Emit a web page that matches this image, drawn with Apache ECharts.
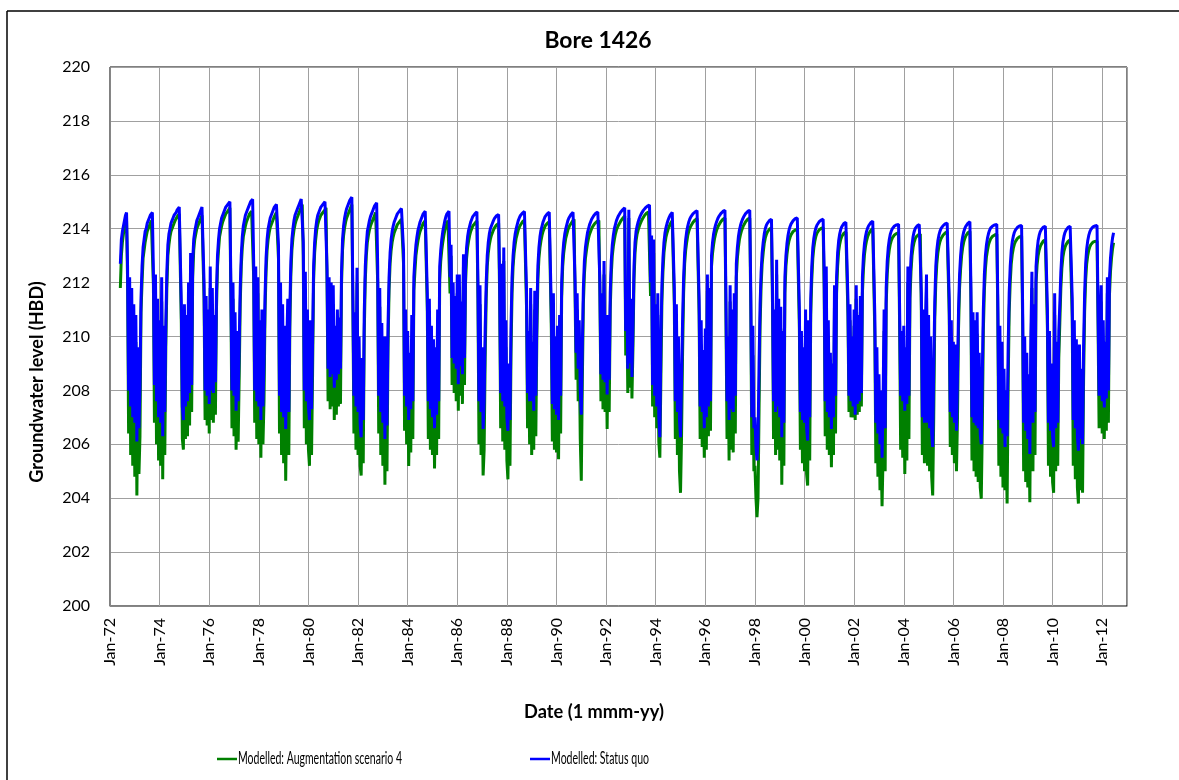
<!DOCTYPE html>
<html><head><meta charset="utf-8">
<script src="https://cdn.jsdelivr.net/npm/echarts@6/dist/echarts.min.js"></script>
<style>html,body{margin:0;padding:0;background:#fff}#c{width:1179px;height:780px}</style>
</head><body><div id="c"></div>
<script>
const chartTitle = 'Bore 1426';
const yAxisTitle = 'Groundwater level (HBD)';
const xAxisTitle = 'Date (1 mmm-yy)';
const seriesNames = ['Modelled: Augmentation scenario 4', 'Modelled: Status quo'];
const seriesColors = ['#008000', '#0000ff'];
const xTickYears = [1972,1974,1976,1978,1980,1982,1984,1986,1988,1990,1992,1994,1996,1998,2000,2002,2004,2006,2008,2010,2012];
// half-monthly samples (24 per year); 1972 starts at slot 10 (June), 2012 ends at slot 11
const sampleYears = [1972,1973,1974,1975,1976,1977,1978,1979,1980,1981,1982,1983,1984,1985,1986,1987,1988,1989,1990,1991,1992,1993,1994,1995,1996,1997,1998,1999,2000,2001,2002,2003,2004,2005,2006,2007,2008,2009,2010,2011,2012];
const firstSlot = 10;
const slotsPerYear = 24;

const statusQuo = [
[212.7,213.6,213.9,214.1,214.3,214.5,214.6,212.6,208.0,212.2,207.4,211.8,207.0,211.2],
[206.8,210.8,206.1,209.6,206.6,208.2,211.4,212.6,213.3,213.6,213.9,214.0,214.2,214.3,214.4,214.5,214.55,214.6,212.4,208.2,212.3,207.6,211.4,207.0],
[210.6,206.8,212.2,206.3,210.4,207.2,210.5,212.4,213.4,213.8,214.0,214.2,214.3,214.4,214.5,214.55,214.6,214.7,214.75,214.8,214.84,211.2,207.4,206.9],
[211.2,207.4,210.8,207.6,212.0,207.9,213.1,208.2,212.8,213.6,213.9,214.1,214.3,214.4,214.5,214.6,214.7,214.8,214.84,212.0,208.0,211.5,207.8,211.0],
[207.5,212.6,208.0,211.8,207.9,210.8,208.3,211.6,213.0,213.6,214.0,214.2,214.4,214.5,214.6,214.7,214.8,214.85,214.9,214.95,215.0,211.8,208.0,212.0],
[207.8,210.9,207.25,210.2,207.6,209.7,211.8,213.0,213.7,214.1,214.3,214.5,214.6,214.7,214.8,214.9,215.0,215.05,215.09,212.8,208.0,212.6,207.6,212.2],
[207.4,210.6,206.9,211.0,207.4,209.0,211.5,212.9,213.6,214.0,214.2,214.4,214.5,214.6,214.7,214.8,214.85,214.9,214.96,213.4,207.8,212.0,207.2,211.2],
[207.0,210.4,206.57,209.6,211.4,207.2,211.0,212.8,213.6,214.0,214.3,214.5,214.6,214.7,214.8,214.9,215.0,215.1,215.17,213.5,208.0,212.4,207.6,211.0],
[207.4,206.9,210.6,207.3,209.8,212.6,213.5,214.0,214.3,214.5,214.6,214.7,214.8,214.85,214.9,214.95,215.0,215.05,212.5,208.8,212.2,208.5,212.0,208.6],
[211.9,208.1,210.4,208.4,211.0,208.6,210.7,208.8,212.4,213.6,214.1,214.4,214.6,214.75,214.85,214.95,215.05,215.12,215.17,211.5,207.8,210.9,207.4,212.55],
[207.2,210.0,206.8,206.26,209.2,206.9,210.9,212.6,213.4,213.9,214.1,214.3,214.45,214.55,214.65,214.75,214.85,214.9,214.96,212.6,207.8,211.8,207.2,210.5],
[206.8,210.0,206.2,210.0,206.7,210.4,212.2,213.1,213.6,213.9,214.1,214.25,214.35,214.45,214.55,214.6,214.65,214.7,214.75,214.8,213.2,207.8,211.0,207.4],
[210.2,206.9,209.4,207.3,210.8,207.6,212.2,212.9,213.4,213.7,213.95,214.1,214.25,214.35,214.45,214.55,214.6,214.65,214.68,211.6,207.6,211.4,207.3,210.4],
[207.0,209.9,206.6,209.6,207.1,211.0,207.6,212.6,213.2,213.6,213.9,214.1,214.3,214.45,214.55,214.6,214.65,212.2,213.4,209.2,212.0,209.0,211.5,208.8],
[212.3,208.23,212.3,208.9,211.3,208.6,213.05,209.2,212.5,213.3,213.7,213.95,214.1,214.25,214.35,214.45,214.5,214.55,214.6,214.63,212.0,207.6,211.9,207.2],
[209.6,206.57,207.6,210.3,212.0,213.0,213.5,213.8,214.0,214.1,214.2,214.3,214.38,214.44,214.48,214.51,214.53,212.1,207.9,212.7,207.6,213.3,207.4,210.6],
[207.0,206.5,209.0,206.9,210.4,212.2,213.0,213.5,213.8,214.0,214.15,214.3,214.4,214.48,214.54,214.58,214.62,214.64,214.65,211.7,207.9,210.2,207.6,211.8],
[207.6,209.8,207.25,211.7,207.8,210.8,212.6,213.3,213.7,213.95,214.1,214.25,214.35,214.45,214.5,214.55,214.58,214.61,214.63,211.0,207.5,211.6,207.3,210.0],
[207.1,210.4,206.9,210.8,207.8,212.0,213.0,213.5,213.8,214.0,214.15,214.3,214.4,214.47,214.53,214.58,214.61,214.63,212.0,209.4,211.6,208.8,210.6,208.0],
[207.1,209.6,211.8,212.8,213.3,213.6,213.85,214.0,214.15,214.25,214.35,214.42,214.48,214.53,214.57,214.6,214.62,214.63,212.0,208.6,211.6,208.4,212.8,208.3],
[210.8,207.85,210.8,208.4,211.6,212.8,213.4,213.75,214.0,214.15,214.3,214.4,214.48,214.55,214.61,214.66,214.7,214.74,214.78,210.2,212.0,208.8,214.7,209.0],
[211.4,208.5,210.4,212.6,213.5,213.9,214.1,214.25,214.37,214.47,214.55,214.62,214.68,214.73,214.77,214.81,214.84,214.86,214.88,212.0,213.75,208.2,213.6,207.8],
[211.2,207.4,211.6,207.0,206.26,209.8,211.9,212.9,213.5,213.85,214.05,214.2,214.32,214.42,214.5,214.56,214.61,214.65,211.8,207.6,211.2,207.2,210.0,206.9],
[206.26,208.4,210.6,212.2,213.1,213.6,213.9,214.1,214.25,214.36,214.44,214.5,214.55,214.59,214.62,214.65,214.67,214.68,211.4,207.4,210.6,207.2,209.5,206.6],
[210.3,207.0,212.3,207.4,211.8,207.6,213.0,213.5,213.8,214.0,214.15,214.27,214.37,214.45,214.51,214.56,214.6,214.64,214.66,214.68,211.2,207.6,210.0,206.9],
[211.9,207.3,211.0,207.2,211.6,207.8,212.7,213.3,213.7,213.95,214.12,214.25,214.35,214.43,214.5,214.56,214.6,214.64,214.66,214.68,211.6,207.0,210.4,206.6],
[207.0,205.9,205.4,206.2,209.0,211.2,212.4,213.1,213.5,213.8,214.0,214.12,214.2,214.26,214.3,214.33,214.35,211.8,207.6,211.0,207.2,212.85,207.4,211.4],
[207.0,211.1,206.26,210.2,206.8,212.2,213.0,213.45,213.75,213.95,214.08,214.18,214.25,214.3,214.34,214.37,214.39,214.4,214.4,211.0,207.2,210.2,206.9,209.6],
[206.8,211.0,206.6,206.14,210.6,207.0,211.4,212.6,213.3,213.65,213.88,214.03,214.13,214.2,214.25,214.29,214.32,214.34,214.35,212.4,207.6,212.6,207.2,210.6],
[207.0,209.4,206.57,209.0,207.0,211.9,207.8,212.2,213.1,213.55,213.8,213.97,214.07,214.14,214.19,214.22,214.24,214.26,211.4,207.8,211.2,207.6,210.0,207.4],
[211.0,207.1,211.9,207.5,210.8,207.6,211.5,207.9,212.2,213.0,213.45,213.72,213.9,214.02,214.11,214.17,214.22,214.26,214.28,214.3,210.8,206.8,209.6,206.4],
[208.6,206.0,208.0,205.5,207.6,211.0,206.6,211.8,212.8,213.3,213.6,213.8,213.92,214.0,214.06,214.1,214.12,214.14,214.15,214.16,211.0,207.8,210.2,207.6],
[210.4,207.25,209.6,207.5,212.6,207.8,212.0,212.9,213.4,213.7,213.88,214.0,214.07,214.11,214.14,214.15,214.16,211.6,207.0,211.0,206.8,210.4,212.3,206.8],
[210.8,206.6,210.0,206.4,205.9,208.8,211.3,212.6,213.2,213.55,213.76,213.9,214.0,214.06,214.11,214.15,214.18,214.2,214.21,214.22,211.4,207.2,210.6,207.0],
[209.8,206.8,209.7,206.5,208.6,211.0,212.3,213.0,213.45,213.7,213.88,214.0,214.09,214.15,214.2,214.23,214.26,211.8,207.0,210.9,206.8,210.6,206.7,210.9],
[206.6,209.4,206.4,206.0,208.6,211.0,212.3,213.0,213.4,213.65,213.82,213.94,214.02,214.07,214.1,214.13,214.14,214.15,214.16,211.4,206.9,210.4,206.6,209.8],
[206.4,208.8,205.9,208.0,206.3,209.6,211.6,212.6,213.2,213.52,213.72,213.86,213.95,214.01,214.05,214.08,214.1,214.11,214.12,211.2,206.8,210.0,206.5,209.4],
[206.2,208.6,205.64,210.0,212.4,206.8,211.2,207.2,212.6,213.2,213.55,213.75,213.88,213.96,214.02,214.06,214.08,214.09,214.1,211.0,206.8,210.2,206.5,209.0],
[206.3,205.9,211.6,206.6,209.8,206.8,210.2,211.2,212.4,213.1,213.5,213.72,213.86,213.95,214.01,214.05,214.08,214.09,214.1,211.4,206.9,210.6,206.6,209.9],
[206.3,205.76,209.7,206.2,208.8,206.0,209.6,211.6,212.7,213.25,213.55,213.75,213.88,213.97,214.03,214.07,214.09,214.1,214.11,214.12,211.0,207.8,210.4,211.9],
[207.6,210.6,207.37,209.8,207.7,212.2,208.0,212.1,212.9,213.35,213.65,213.85]
];

const augmentation4 = [
[211.8,213.0,213.5,213.8,214.0,214.2,214.3,212.1,206.4,211.6,205.6,211.0,205.2,210.4],
[204.8,209.8,204.1,208.2,204.9,206.3,210.9,212.0,212.9,213.2,213.5,213.7,213.9,214.0,214.1,214.2,214.3,214.35,211.9,206.8,211.6,206.0,210.6,205.4],
[209.8,205.2,211.3,204.7,209.4,205.6,209.6,211.8,213.0,213.4,213.7,213.9,214.0,214.1,214.2,214.3,214.35,214.45,214.5,214.55,214.6,210.5,206.2,205.8],
[210.5,206.2,209.8,206.3,211.2,206.7,212.6,207.2,212.2,213.2,213.6,213.8,214.0,214.1,214.2,214.3,214.4,214.5,214.53,211.4,206.9,210.6,206.7,210.2],
[206.4,211.8,206.9,210.9,206.8,209.9,207.1,211.0,212.6,213.2,213.7,213.9,214.1,214.25,214.35,214.45,214.55,214.6,214.65,214.7,214.78,211.2,206.6,211.4],
[206.3,209.8,205.8,208.9,206.1,208.5,211.2,212.6,213.3,213.7,213.9,214.1,214.25,214.35,214.45,214.55,214.6,214.65,214.7,212.2,206.8,212.0,206.2,211.6],
[206.0,209.3,205.5,210.2,206.0,207.6,210.9,212.4,213.2,213.6,213.85,214.05,214.15,214.25,214.35,214.45,214.5,214.6,214.65,212.9,206.4,211.2,205.6,210.2],
[205.3,209.0,204.65,207.8,210.6,205.6,210.3,212.3,213.2,213.65,213.95,214.15,214.3,214.4,214.5,214.6,214.7,214.8,214.9,213.0,206.6,211.7,206.0,210.0],
[205.8,205.2,209.4,205.6,208.6,212.1,213.1,213.6,213.95,214.15,214.3,214.4,214.5,214.55,214.6,214.65,214.7,214.78,212.0,207.6,211.6,207.3,211.4,207.4],
[211.2,206.9,209.3,207.1,210.1,207.4,209.8,207.5,211.9,213.2,213.75,214.05,214.25,214.4,214.5,214.6,214.7,214.8,214.9,211.0,206.4,210.1,205.8,212.0],
[205.6,209.0,205.2,204.84,207.6,205.3,210.1,212.1,213.0,213.5,213.75,213.95,214.1,214.2,214.3,214.4,214.5,214.6,214.65,212.0,206.4,211.1,205.6,209.5],
[205.2,208.8,204.5,208.6,205.0,209.6,211.7,212.7,213.2,213.5,213.7,213.85,213.95,214.05,214.15,214.2,214.25,214.3,214.35,214.4,212.7,206.5,210.2,206.0],
[209.0,205.2,207.9,205.7,209.9,206.2,211.7,212.4,213.0,213.3,213.55,213.75,213.9,214.0,214.1,214.2,214.25,214.3,214.35,211.0,206.2,210.7,205.8,209.4],
[205.6,208.8,205.1,208.2,205.6,210.2,206.2,212.1,212.8,213.2,213.5,213.75,213.95,214.1,214.2,214.3,214.35,211.6,213.0,208.2,211.4,207.9,210.8,207.6],
[211.6,207.25,211.6,207.8,210.5,207.5,212.6,208.2,212.0,212.9,213.3,213.55,213.75,213.9,214.0,214.1,214.15,214.2,214.25,214.28,211.4,206.0,211.2,205.6],
[208.2,204.84,205.8,209.2,211.4,212.6,213.1,213.4,213.6,213.75,213.85,213.95,214.03,214.1,214.14,214.17,214.2,211.5,206.6,212.2,206.1,212.8,205.8,209.6],
[205.4,204.7,207.4,205.2,209.4,211.6,212.6,213.1,213.4,213.65,213.8,213.95,214.05,214.13,214.2,214.25,214.3,214.32,214.35,211.1,206.6,209.2,206.0,211.2],
[205.6,208.5,205.8,211.0,206.3,210.0,212.1,212.9,213.3,213.55,213.75,213.9,214.0,214.1,214.15,214.2,214.23,214.26,214.28,210.3,206.1,211.0,205.8,208.9],
[205.7,209.4,205.45,210.0,206.4,211.4,212.6,213.1,213.4,213.65,213.8,213.95,214.05,214.13,214.2,214.25,214.3,214.35,211.5,208.4,211.0,207.6,209.6,206.2],
[204.65,208.3,211.2,212.3,212.9,213.2,213.45,213.65,213.8,213.9,214.0,214.08,214.14,214.19,214.23,214.26,214.28,214.3,211.5,207.6,211.0,207.3,212.3,207.2],
[209.8,206.57,209.9,207.2,211.0,212.3,213.0,213.35,213.6,213.8,213.95,214.05,214.13,214.2,214.27,214.33,214.38,214.43,214.47,209.3,211.4,207.9,214.4,208.1],
[210.8,207.7,209.6,212.1,213.1,213.55,213.8,213.95,214.07,214.18,214.27,214.35,214.42,214.48,214.53,214.57,214.6,214.62,214.65,211.5,213.3,207.4,213.1,207.0],
[210.3,206.6,210.8,206.1,205.5,208.4,211.3,212.4,213.1,213.45,213.7,213.85,213.98,214.08,214.17,214.24,214.3,214.35,211.2,206.2,210.4,205.6,208.9,205.0],
[204.2,206.3,209.4,211.6,212.7,213.2,213.5,213.75,213.9,214.02,214.1,214.17,214.23,214.28,214.32,214.35,214.38,214.4,210.8,206.2,209.7,205.9,208.4,205.5],
[209.4,205.8,211.7,206.3,211.1,206.5,212.6,213.1,213.4,213.65,213.82,213.95,214.05,214.13,214.2,214.26,214.31,214.35,214.38,214.4,210.6,206.2,209.1,205.4],
[211.3,205.8,210.2,205.7,211.0,206.4,212.2,212.9,213.3,213.6,213.78,213.92,214.03,214.12,214.19,214.26,214.31,214.35,214.38,214.4,211.0,205.6,209.3,205.0],
[205.2,204.0,203.3,204.0,207.3,210.4,211.9,212.7,213.1,213.45,213.65,213.78,213.87,213.93,213.98,214.01,214.04,211.2,206.2,210.2,205.6,212.3,205.8,210.6],
[205.4,210.3,204.5,209.2,205.2,211.6,212.6,213.05,213.35,213.55,213.68,213.78,213.85,213.9,213.93,213.95,213.96,213.97,213.97,210.3,205.8,209.4,205.3,208.6],
[205.0,210.3,204.9,204.47,209.6,205.4,210.8,212.1,212.9,213.3,213.55,213.72,213.83,213.9,213.95,213.99,214.01,214.03,214.04,211.8,206.3,212.0,205.8,209.6],
[205.6,208.2,205.15,207.8,205.6,211.3,206.4,211.6,212.6,213.15,213.42,213.6,213.71,213.78,213.83,213.86,213.88,213.9,210.8,207.2,210.6,207.0,209.3,207.0],
[210.4,206.9,211.4,207.1,210.1,207.2,210.9,207.4,211.6,212.5,213.05,213.35,213.55,213.7,213.8,213.87,213.93,213.98,214.01,214.04,210.1,205.3,208.2,204.8],
[207.4,204.3,205.8,203.7,205.6,210.2,205.0,211.2,212.3,212.9,213.22,213.43,213.57,213.66,213.73,213.77,213.8,213.82,213.84,213.85,210.3,205.8,208.8,205.5],
[209.2,204.9,208.1,205.4,212.0,206.2,211.4,212.4,213.0,213.3,213.5,213.62,213.7,213.74,213.77,213.79,213.8,211.0,205.6,210.3,205.3,209.5,211.7,205.2],
[209.9,205.0,208.8,204.8,204.1,207.0,210.6,212.0,212.7,213.1,213.35,213.52,213.63,213.7,213.76,213.8,213.84,213.87,213.89,213.9,210.8,205.9,209.6,205.6],
[208.8,205.3,208.6,205.0,207.0,210.3,211.8,212.5,213.0,213.3,213.5,213.63,213.73,213.8,213.85,213.88,213.9,211.2,205.4,210.1,205.0,209.8,204.8,210.1],
[204.6,208.0,204.4,203.98,206.6,210.2,211.7,212.5,212.95,213.2,213.4,213.52,213.62,213.68,213.72,213.75,213.77,213.79,213.8,210.8,205.2,209.6,204.8,208.6],
[204.4,207.4,204.3,206.0,203.8,208.1,210.9,212.0,212.7,213.05,213.27,213.42,213.52,213.59,213.64,213.68,213.7,213.72,213.73,210.6,205.0,209.0,204.6,208.2],
[204.4,206.9,203.85,208.8,211.8,205.0,210.4,205.6,212.0,212.65,213.0,213.2,213.33,213.42,213.49,213.54,213.57,213.59,213.6,210.3,205.2,209.2,204.8,207.7],
[204.6,204.2,210.8,205.0,208.6,205.2,209.2,210.5,211.8,212.55,212.95,213.17,213.31,213.41,213.48,213.53,213.57,213.59,213.6,210.7,205.2,209.6,204.7,208.6],
[204.4,203.8,208.4,204.3,207.2,204.2,208.4,210.9,212.1,212.7,213.0,213.2,213.33,213.41,213.47,213.5,213.52,213.53,213.54,213.54,210.4,206.6,209.4,211.3],
[206.4,209.7,206.2,208.6,206.5,211.6,206.8,211.5,212.4,212.9,213.25,213.48]
];

function toPoints(rows) {
  const pts = [];
  rows.forEach((row, k) => {
    const start = k === 0 ? firstSlot : 0;
    row.forEach((v, j) => pts.push([sampleYears[k] + (start + j) / slotsPerYear, v]));
  });
  return pts;
}

const FONT = 'Lato, "Open Sans", sans-serif';
const measureCtx = document.createElement('canvas').getContext('2d');
function textWidth(text, font) { measureCtx.font = font; return measureCtx.measureText(text).width; }
// font size that makes a text span a given width (reference text widths)
function fitSize(text, weight, target) { return 20 * target / textWidth(text, weight + ' 20px ' + FONT); }

const titleSize = fitSize(chartTitle, 'bold', 107);
const xTitleSize = fitSize(xAxisTitle, 'bold', 140);
const yTitleSize = fitSize(yAxisTitle, 'bold', 201);
const legendFont = '17px ' + FONT;
const legendTextWidths = [164, 98];
const legendLeft = [217, 530];

const legendGraphics = [];
seriesNames.forEach((name, i) => {
  legendGraphics.push({type: 'line', shape: {x1: legendLeft[i], y1: 759, x2: legendLeft[i] + 20, y2: 759},
    style: {stroke: seriesColors[i], lineWidth: 2.5}, silent: true});
  legendGraphics.push({type: 'text', x: legendLeft[i] + 21, y: 759,
    scaleX: legendTextWidths[i] / textWidth(name, legendFont),
    style: {text: name, font: legendFont, fill: '#000', align: 'left', verticalAlign: 'middle'}, silent: true});
});

const chart = echarts.init(document.getElementById('c'), null, {renderer: 'canvas'});
chart.setOption({
  animation: false,
  backgroundColor: '#fff',
  grid: {left: 110, top: 67, width: 1017, height: 539, show: true, borderColor: '#000', borderWidth: 1, containLabel: false},
  xAxis: {
    type: 'value', min: 1972, max: 2013, interval: 2,
    axisLine: {show: true, lineStyle: {color: '#868686', width: 1}},
    axisTick: {show: false},
    splitLine: {show: true, lineStyle: {color: '#a0a0a0', width: 1}},
    axisLabel: {
      rotate: 90, margin: 12, fontFamily: FONT, fontSize: 16, color: '#000',
      formatter: v => xTickYears.indexOf(v) >= 0 ? 'Jan-' + String(v).slice(2) : ''
    }
  },
  yAxis: {
    type: 'value', min: 200, max: 220, interval: 2,
    axisLine: {show: true, lineStyle: {color: '#868686', width: 1}},
    axisTick: {show: false},
    splitLine: {show: true, lineStyle: {color: '#a0a0a0', width: 1}},
    axisLabel: {margin: 20, fontFamily: FONT, fontSize: 16, color: '#000'}
  },
  graphic: [
    {type: 'line', shape: {x1: 7, y1: 11, x2: 1179, y2: 11}, style: {stroke: '#000', lineWidth: 1.5}, silent: true},
    {type: 'line', shape: {x1: 7, y1: 11, x2: 7, y2: 780}, style: {stroke: '#000', lineWidth: 1.5}, silent: true},
    {type: 'text', x: 598, y: 41, style: {text: chartTitle, font: 'bold ' + titleSize.toFixed(1) + 'px ' + FONT, fill: '#000', align: 'center', verticalAlign: 'middle'}},
    {type: 'text', x: 37, y: 382, rotation: Math.PI / 2, style: {text: yAxisTitle, font: 'bold ' + yTitleSize.toFixed(1) + 'px ' + FONT, fill: '#000', align: 'center', verticalAlign: 'middle'}},
    {type: 'text', x: 594, y: 712, style: {text: xAxisTitle, font: 'bold ' + xTitleSize.toFixed(1) + 'px ' + FONT, fill: '#000', align: 'center', verticalAlign: 'middle'}}
  ].concat(legendGraphics),
  series: [
    {name: seriesNames[0], type: 'line', data: toPoints(augmentation4), symbol: 'none', showSymbol: false,
     lineStyle: {color: seriesColors[0], width: 3}, itemStyle: {color: seriesColors[0]}, z: 2},
    {name: seriesNames[1], type: 'line', data: toPoints(statusQuo), symbol: 'none', showSymbol: false,
     lineStyle: {color: seriesColors[1], width: 3}, itemStyle: {color: seriesColors[1]}, z: 3}
  ]
});
</script></body></html>
